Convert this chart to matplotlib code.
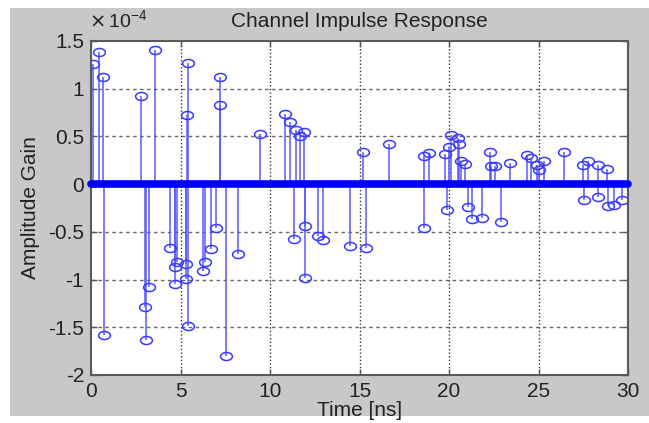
import numpy as np
import matplotlib
matplotlib.use("Agg")
import matplotlib.pyplot as plt
from matplotlib.markers import MarkerStyle
from matplotlib.transforms import Affine2D
from matplotlib.patches import Rectangle

plt.rcParams['font.family'] = ['Liberation Sans', 'DejaVu Sans']
plt.rcParams['axes.unicode_minus'] = False

# delay of each path [ns] and its amplitude gain [x 1e-4]
delay_ns = [0.10, 0.46, 0.65, 0.74, 2.80, 3.02, 3.08, 3.24, 3.55, 4.44,
            4.67, 4.72, 4.80, 5.28, 5.30, 5.43, 5.38, 5.42, 6.26, 6.39,
            6.72, 7.00, 7.18, 7.22, 7.56, 8.24, 9.44, 10.83, 11.10, 11.33,
            11.44, 11.67, 11.90, 11.94, 11.97, 12.68, 12.96, 14.48, 15.22, 15.37,
            16.67, 18.60, 18.62, 18.90, 19.78, 19.90, 20.00, 20.10, 20.50, 20.56,
            20.65, 20.90, 21.07, 21.30, 21.85, 22.28, 22.37, 22.55, 22.93, 23.40,
            24.35, 24.60, 24.90, 25.00, 25.30, 26.40, 27.50, 27.52, 27.74, 28.30,
            28.32, 28.85, 28.87, 29.20, 29.67]
gain = [1.26, 1.38, 1.12, -1.58, 0.92, -1.29, -1.63, -1.08, 1.41, -0.67,
        -1.05, -0.87, -0.82, -0.84, -0.99, 1.27, 0.72, -1.49, -0.91, -0.82,
        -0.68, -0.46, 1.12, 0.83, -1.80, -0.73, 0.53, 0.74, 0.65, -0.57,
        0.57, 0.50, 0.545, -0.44, -0.98, -0.54, -0.59, -0.65, 0.34, -0.67,
        0.42, 0.29, -0.46, 0.33, 0.32, -0.27, 0.39, 0.52, 0.48, 0.42,
        0.24, 0.215, -0.24, -0.37, -0.36, 0.34, 0.19, 0.19, -0.40, 0.22,
        0.31, 0.27, 0.20, 0.146, 0.24, 0.34, 0.20, -0.17, 0.24, 0.20,
        -0.13, 0.16, -0.23, -0.22, -0.17]

x_ticks = [0, 5, 10, 15, 20, 25, 30]
y_ticks = [-2, -1.5, -1, -0.5, 0, 0.5, 1, 1.5]

W, H = 649, 423
fig = plt.figure(figsize=(W / 100, H / 100), dpi=100, facecolor='white')
# grey matlab-like figure window
fig.patches.append(Rectangle((10 / W, 7 / H), 1 - 10 / W, 1 - 15 / H,
                             transform=fig.transFigure, facecolor='#c8c8c8',
                             edgecolor='none', zorder=-10))

ax = fig.add_axes([91 / W, 1 - 375 / H, (628 - 91) / W, (375 - 41) / H])
ax.set_facecolor('white')

ell = MarkerStyle('o', fillstyle='none', transform=Affine2D().scale(1.0, 0.68))
markerline, stemlines, baseline = ax.stem(delay_ns, gain, basefmt=' ')
stemlines.set_color('#5a5aff')
stemlines.set_linewidth(1.1)
markerline.set_marker(ell)
markerline.set_markersize(8.5)
markerline.set_markeredgecolor('#3a3aff')
markerline.set_markeredgewidth(1.1)
markerline.set_color('#3a3aff')

# zero samples drawn as a thick base line
ax.plot([x_ticks[0], x_ticks[-1]], [0, 0], color='#0000ff', lw=5.5,
        solid_capstyle='round', clip_on=False, zorder=3)

ax.set_xlim(x_ticks[0], x_ticks[-1])
ax.set_ylim(y_ticks[0], y_ticks[-1])
ax.set_xticks(x_ticks)
ax.set_yticks(y_ticks)
ax.set_xticklabels(['%g' % v for v in x_ticks])
ax.set_yticklabels(['%g' % v for v in y_ticks])

for yv in y_ticks[1:-1]:
    ax.axhline(yv, color='#666666', lw=1, ls=(0, (2.5, 2.5)), zorder=0)
for xv in x_ticks[1:-1]:
    ax.axvline(xv, color='#333333', lw=1, ls=(0, (1, 1.6)), zorder=0)

txt = '#222222'
ax.tick_params(direction='in', length=4, width=1, colors='#555555',
               labelcolor=txt, labelsize=15, top=True, right=True, pad=5)
for s in ax.spines.values():
    s.set_color('#5a5a5a')
    s.set_linewidth(1.5)

ax.set_title('Channel Impulse Response', fontsize=15, color=txt, pad=10)
ax.set_xlabel('Time [ns]', fontsize=15, color=txt, labelpad=0)
ax.set_ylabel('Amplitude Gain', fontsize=15, color=txt, labelpad=6)
ax.text(-0.003, 1.03, r'$\times\,\mathregular{10^{-4}}$', transform=ax.transAxes,
        fontsize=14, color=txt, ha='left', va='bottom')

fig.savefig('out.png', dpi=100, facecolor=fig.get_facecolor())
